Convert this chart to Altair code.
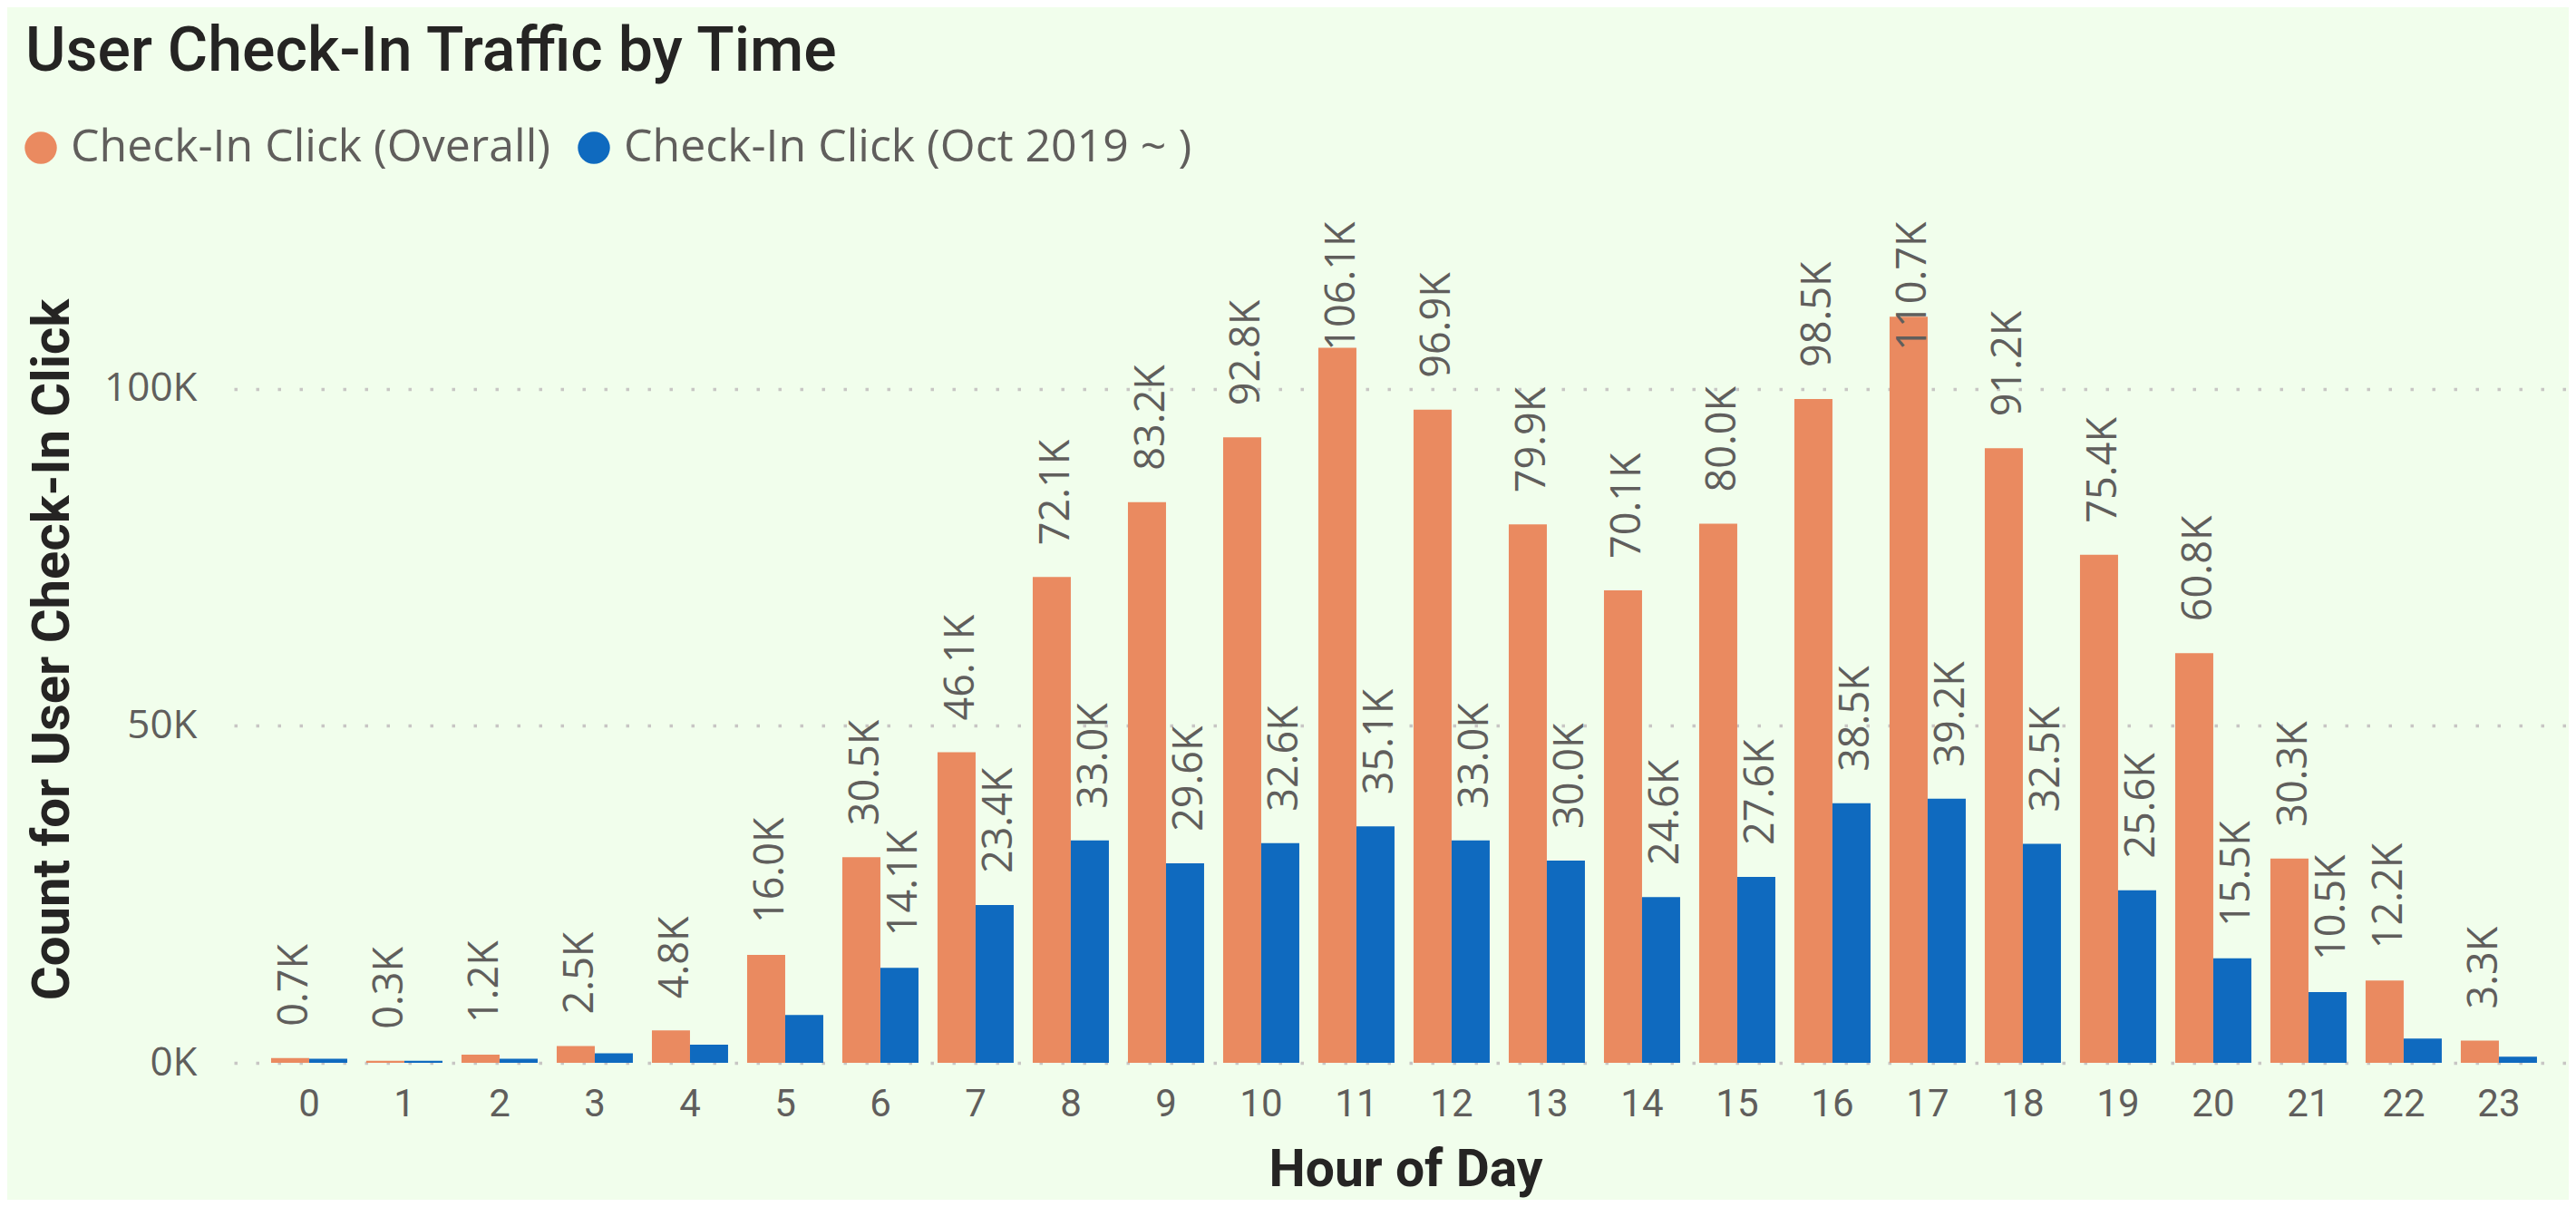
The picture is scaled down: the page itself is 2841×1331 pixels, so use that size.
import altair as alt
import pandas as pd

# ---- data (values in thousands) ----
hours = [str(h) for h in range(24)]
series_names = ["Check-In Click (Overall)", "Check-In Click (Oct 2019 ~ )"]
overall = [0.7, 0.3, 1.2, 2.5, 4.8, 16.0, 30.5, 46.1, 72.1, 83.2, 92.8, 106.1,
           96.9, 79.9, 70.1, 80.0, 98.5, 110.7, 91.2, 75.4, 60.8, 30.3, 12.2, 3.3]
recent = [0.6, 0.3, 0.6, 1.4, 2.7, 7.1, 14.1, 23.4, 33.0, 29.6, 32.6, 35.1,
          33.0, 30.0, 24.6, 27.6, 38.5, 39.2, 32.5, 25.6, 15.5, 10.5, 3.6, 0.9]
overall_labels = ["0.7K", "0.3K", "1.2K", "2.5K", "4.8K", "16.0K", "30.5K", "46.1K",
                  "72.1K", "83.2K", "92.8K", "106.1K", "96.9K", "79.9K", "70.1K", "80.0K",
                  "98.5K", "110.7K", "91.2K", "75.4K", "60.8K", "30.3K", "12.2K", "3.3K"]
recent_labels = ["", "", "", "", "", "", "14.1K", "23.4K",
                 "33.0K", "29.6K", "32.6K", "35.1K", "33.0K", "30.0K", "24.6K", "27.6K",
                 "38.5K", "39.2K", "32.5K", "25.6K", "15.5K", "10.5K", "", ""]
y_ticks = [0, 50, 100]

rows = []
for i, h in enumerate(hours):
    rows.append({"hour": h, "series": series_names[0], "value": overall[i], "label": overall_labels[i]})
    rows.append({"hour": h, "series": series_names[1], "value": recent[i], "label": recent_labels[i]})
df = pd.DataFrame(rows)

ORANGE = "#EA8A60"
BLUE = "#0F6ABF"
GRAY = "#605E5C"
DARK = "#252423"
BG = "#F1FEEC"

x_enc = alt.X("hour:O", sort=hours,
              scale=alt.Scale(paddingInner=0.2, paddingOuter=0.362, align=0.539),
              axis=alt.Axis(title="Hour of Day", labelAngle=0, domain=False, ticks=False,
                            tickSize=0, grid=False, labelFont="Roboto", labelFontSize=42,
                            labelColor=GRAY, labelBaseline="alphabetic", labelPadding=58,
                            titleFont="Roboto", titleFontSize=57, titleFontWeight="bold",
                            titleColor=DARK, titleX=1292, titleY=135,
                            titleBaseline="alphabetic", titleAlign="center"))
xoff_enc = alt.XOffset("series:N", sort=series_names,
                       scale=alt.Scale(paddingInner=0, paddingOuter=0))

bars = alt.Chart(df).mark_bar().encode(
    x=x_enc,
    xOffset=xoff_enc,
    y=alt.Y("value:Q",
            scale=alt.Scale(domain=[0, 125], nice=False),
            axis=alt.Axis(title="Count for User Check-In Click", values=y_ticks,
                          labelExpr="datum.value + 'K'", domain=False, ticks=False,
                          tickSize=0, grid=True, gridDash=[3.5, 20.5], gridWidth=3.5,
                          gridColor="#C8C6C4", labelFont="Open Sans", labelFontSize=44,
                          labelColor=GRAY, labelPadding=41,
                          titleFont="Roboto", titleFontSize=58, titleFontWeight="bold",
                          titleColor=DARK, titleX=-200, titleY=473, titleAngle=270,
                          titleBaseline="middle", titleAlign="center")),
    color=alt.Color("series:N", sort=series_names,
                    scale=alt.Scale(domain=series_names, range=[ORANGE, BLUE]),
                    legend=alt.Legend(title=None, orient="none", legendX=-238, legendY=-105,
                                      direction="horizontal", symbolType="circle",
                                      symbolSize=1257, symbolStrokeWidth=0, symbolOpacity=1,
                                      labelFont="Open Sans", labelFontSize=50,
                                      labelColor=GRAY, labelOffset=8, columnPadding=22,
                                      padding=0, labelLimit=1000)),
)

labels = alt.Chart(df).transform_calculate(
    labelPos="min(datum.value, 100.94)"
).mark_text(angle=270, align="left", baseline="middle", dx=35, dy=5,
            font="Open Sans", fontSize=45, color=GRAY).encode(
    x=alt.X("hour:O", sort=hours),
    xOffset=alt.XOffset("series:N", sort=series_names),
    y=alt.Y("labelPos:Q"),
    text="label:N",
)

chart = alt.layer(bars, labels).properties(
    width=2575, height=929,
    padding={"left": 250, "top": 235, "right": 0, "bottom": 151},
    autosize=alt.AutoSizeParams(type="none"),
    background=BG,
    title=alt.TitleParams(text="User Check-In Traffic by Time", anchor="start", frame="group",
                          font="Roboto", fontSize=68, fontWeight=500, color=DARK,
                          dx=-230, dy=8, offset=0, baseline="alphabetic"),
).configure_view(stroke=None)

chart.save("out.html", embed_options={"renderer": "svg", "actions": False})
